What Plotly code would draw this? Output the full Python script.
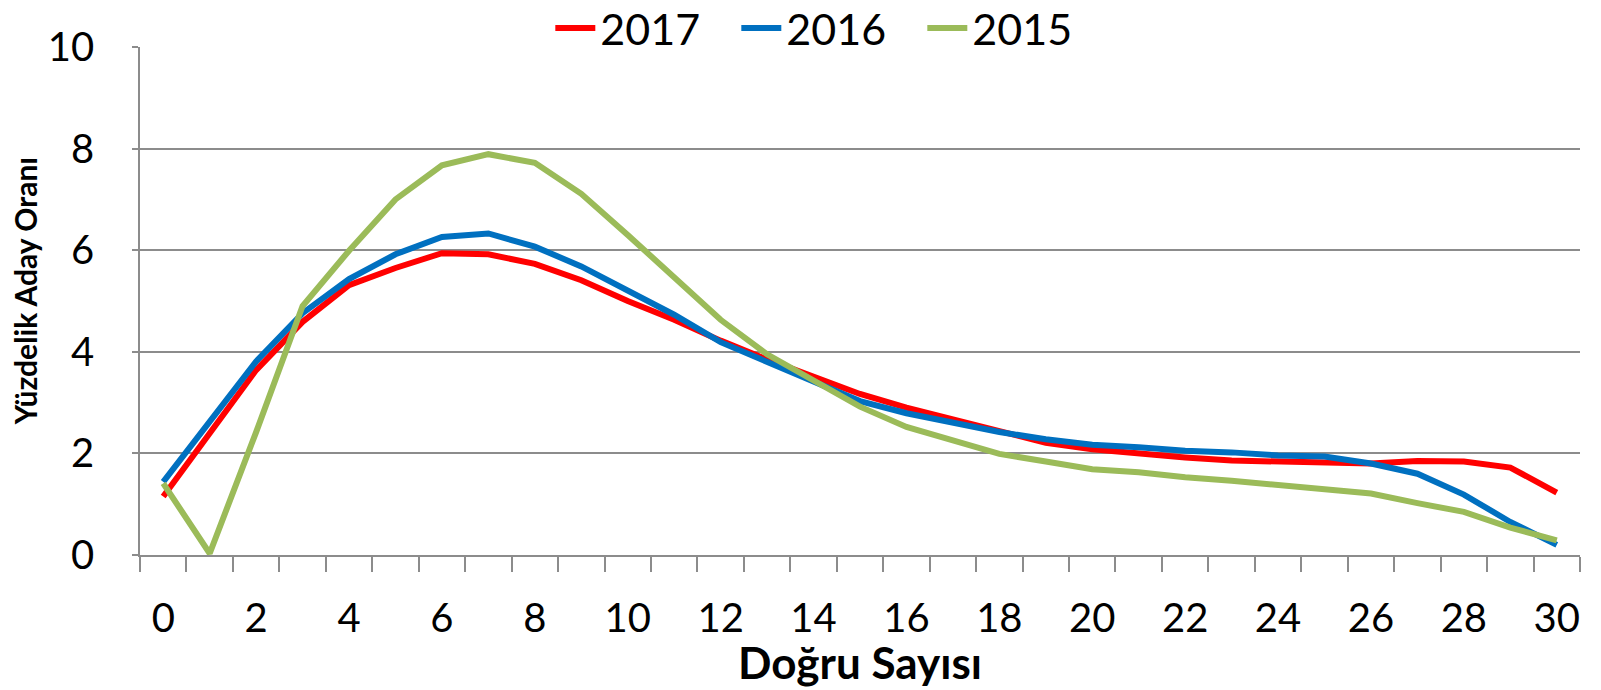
import plotly.graph_objects as go

correct_counts = list(range(0, 31))

y2017 = [1.15, 2.41, 3.64, 4.59, 5.31, 5.65, 5.94, 5.92, 5.73, 5.41, 5.0,
         4.63, 4.22, 3.85, 3.51, 3.17, 2.90, 2.66, 2.42, 2.21, 2.08,
         1.99, 1.92, 1.86, 1.84, 1.82, 1.80, 1.85, 1.84, 1.72, 1.23]

y2016 = [1.44, 2.62, 3.81, 4.76, 5.43, 5.92, 6.26, 6.33, 6.07, 5.68, 5.22,
         4.73, 4.19, 3.81, 3.41, 3.03, 2.79, 2.59, 2.42, 2.28, 2.17,
         2.12, 2.05, 2.02, 1.96, 1.94, 1.80, 1.60, 1.19, 0.65, 0.20]

y2015 = [1.41, 0.03, 2.42, 4.90, 5.99, 7.0, 7.67, 7.89, 7.72, 7.11, 6.30,
         5.48, 4.63, 3.95, 3.45, 2.92, 2.52, 2.25, 1.99, 1.84, 1.69,
         1.63, 1.53, 1.46, 1.38, 1.29, 1.21, 1.02, 0.85, 0.54, 0.29]

series_names = ["2017", "2016", "2015"]
series_colors = ["#FF0000", "#0070C0", "#9BBB59"]
series_values = [y2017, y2016, y2015]

x_tick_vals = list(range(0, 31, 2))
y_tick_vals = [0, 2, 4, 6, 8, 10]

FONT = "Lato"
GRID = "#8c8c8c"

fig = go.Figure()
for name, color, vals in zip(series_names, series_colors, series_values):
    fig.add_trace(go.Scatter(
        x=correct_counts, y=vals, name=name, mode="lines",
        line=dict(color=color, width=6),
    ))

fig.update_layout(
    width=1601, height=690,
    margin=dict(l=132, r=29, t=39, b=143, autoexpand=False),
    paper_bgcolor="white", plot_bgcolor="white",
    font=dict(family=FONT, color="black"),
    showlegend=True,
    legend=dict(
        orientation="h", xref="container", yref="container",
        x=0.513, xanchor="center", y=1 - 20 / 690, yanchor="middle",
        font=dict(size=43, family=FONT), itemwidth=40,
        entrywidth=131,
        bgcolor="rgba(0,0,0,0)",
    ),
    xaxis=dict(
        range=[-0.5, 30.5], tickmode="array", tickvals=x_tick_vals,
        ticktext=[str(v) for v in x_tick_vals],
        ticks="", showgrid=False, zeroline=False,
        showline=True, linecolor=GRID, linewidth=1.5,
        tickfont=dict(size=40, family=FONT),
        ticklabelstandoff=27,
        minor=dict(tickmode="linear", tick0=-0.5, dtick=1, ticks="outside",
                   ticklen=15, tickwidth=1.5, tickcolor=GRID, showgrid=False),
    ),
    yaxis=dict(
        range=[0, 10], tickmode="array", tickvals=y_tick_vals,
        ticks="outside", ticklen=6, tickwidth=1.5, tickcolor=GRID,
        showgrid=True, gridcolor=GRID, gridwidth=1.5, zeroline=False,
        showline=True, linecolor=GRID, linewidth=1.5,
        tickfont=dict(size=40, family=FONT),
        ticklabelstandoff=30,
    ),
    annotations=[
        dict(text="<b>Doğru Sayısı</b>", xref="paper", yref="paper",
             x=0.5, y=(554.5 - 661) / 507.5, xanchor="center", yanchor="middle",
             showarrow=False, font=dict(size=44, family=FONT)),
        dict(text="<b>Yüzdelik Aday Oranı</b>", xref="paper", yref="paper",
             x=(25 - 140) / 1440, y=(554.5 - 291) / 507.5, xanchor="center",
             yanchor="middle", textangle=-90,
             showarrow=False, font=dict(size=30, family=FONT)),
    ],
)

fig.write_html("out.html")
